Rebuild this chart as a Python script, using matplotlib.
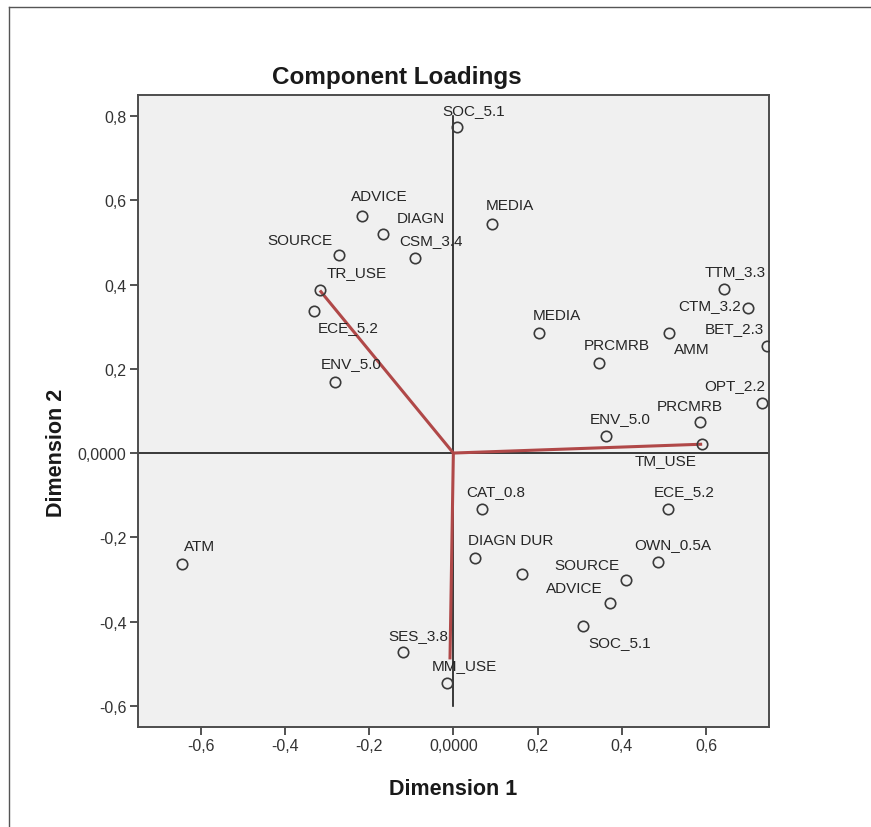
import matplotlib

matplotlib.use("Agg")
import matplotlib.pyplot as plt
from matplotlib.lines import Line2D

plt.rcParams["font.family"] = ["Liberation Sans", "DejaVu Sans"]

# Component loadings (Dimension 1, Dimension 2)
LABELS = [
    "SOC_5.1", "ADVICE", "DIAGN", "SOURCE", "CSM_3.4", "MEDIA", "TR_USE",
    "ECE_5.2", "ENV_5.0", "TTM_3.3", "CTM_3.2", "BET_2.3", "MEDIA", "PRCMRB",
    "AMM", "OPT_2.2", "PRCMRB", "ENV_5.0", "TM_USE", "CAT_0.8", "ECE_5.2",
    "ATM", "DIAGN DUR", "", "SOURCE", "OWN_0.5A", "ADVICE", "SOC_5.1",
    "SES_3.8", "MM_USE",
]
DIM1 = [
    0.008, -0.217, -0.166, -0.271, -0.091, 0.092, -0.317,
    -0.332, -0.282, 0.642, 0.701, 0.745, 0.203, 0.346,
    0.513, 0.734, 0.586, 0.363, 0.591, 0.067, 0.509,
    -0.645, 0.051, 0.164, 0.409, 0.487, 0.371, 0.309,
    -0.120, -0.016,
]
DIM2 = [
    0.773, 0.563, 0.521, 0.470, 0.462, 0.543, 0.386,
    0.337, 0.168, 0.390, 0.345, 0.253, 0.286, 0.214,
    0.286, 0.119, 0.073, 0.040, 0.021, -0.132, -0.132,
    -0.264, -0.249, -0.287, -0.301, -0.259, -0.355, -0.410,
    -0.472, -0.545,
]

# end points of the three red vectors
VEC_DIM1 = [-0.317, 0.591, -0.008]
VEC_DIM2 = [0.386, 0.021, -0.490]

TICKS = [-0.6, -0.4, -0.2, 0.0, 0.2, 0.4, 0.6, 0.8]
TICK_TEXT = ["-0,6", "-0,4", "-0,2", "0,0000", "0,2", "0,4", "0,6", "0,8"]

# label placement in pixels relative to the point: (dx, dy, alignment)
LABEL_POS = [
    (-14, 17, "left"), (-11, 20, "left"), (13, 16, "left"), (-7, 15, "right"),
    (-16, 18, "left"), (-6, 19, "left"), (7, 18, "left"), (4, -16, "left"),
    (-14, 19, "left"), (-19, 18, "left"), (-7, 3, "right"), (-62, 18, "left"),
    (-6, 18, "left"), (-15, 18, "left"), (5, -16, "left"), (-58, 18, "left"),
    (-43, 16, "left"), (-16, 18, "left"), (-68, -16, "left"), (-15, 18, "left"),
    (-14, 18, "left"), (2, 18, "left"), (-7, 18, "left"), (0, 0, "left"),
    (-6, 15, "right"), (-24, 18, "left"), (-7, 15, "right"), (5, -16, "left"),
    (-14, 17, "left"), (-15, 18, "left"),
]

TEXT_COLOR = "#262626"

fig = plt.figure(figsize=(8.71, 8.28), dpi=100)
ax = fig.add_axes([0.158, 0.121, 0.725, 0.763])
ax.set_facecolor("#F0F0F0")
ax.set_xlim(-0.75, 0.75)
ax.set_ylim(-0.65, 0.85)

# reference lines through the origin
ax.axhline(0, color="#1a1a1a", lw=1.2, zorder=1)
ax.plot([0, 0], [-0.6, 0.8], color="#1a1a1a", lw=1.2, zorder=1)

for vx, vy in zip(VEC_DIM1, VEC_DIM2):
    ax.plot([0, vx], [0, vy], color="#B04848", lw=2.2, solid_capstyle="butt", zorder=2)

ax.plot(DIM1, DIM2, linestyle="none", marker="o", ms=7.5, mfc="none",
        mec="#3a3a3a", mew=1.2, zorder=3, clip_on=True)

for x, y, label, (dx, dy, ha) in zip(DIM1, DIM2, LABELS, LABEL_POS):
    if not label:
        continue
    ax.annotate(label, (x, y), xytext=(dx, dy), textcoords="offset pixels",
                ha=ha, va="center", fontsize=11, color=TEXT_COLOR, zorder=4,
                annotation_clip=False)

ax.set_xticks(TICKS[:-1])
ax.set_xticklabels(TICK_TEXT[:-1])
ax.set_yticks(TICKS)
ax.set_yticklabels(TICK_TEXT)
ax.tick_params(direction="out", length=6, width=1.3, color="#444444",
               labelsize=11.5, labelcolor="#333333", pad=2)
for spine in ax.spines.values():
    spine.set_color("#4d4d4d")
    spine.set_linewidth(1.4)

fig.text(0.456, 0.907, "Component Loadings", ha="center", va="center",
         fontsize=17.5, fontweight="bold", color="#1a1a1a")
fig.text(0.520, 0.046, "Dimension 1", ha="center", va="center",
         fontsize=15.5, fontweight="bold", color="#1a1a1a")
fig.text(0.065, 0.453, "Dimension 2", ha="center", va="center", rotation=90,
         fontsize=15.5, fontweight="bold", color="#1a1a1a")

# thin frame along the top and left edge of the picture
fig.add_artist(Line2D([0.0105, 0.0105], [0.0, 0.990], color="#555555", lw=1.0))
fig.add_artist(Line2D([0.0105, 1.0], [0.990, 0.990], color="#555555", lw=1.0))

fig.savefig("out.png", dpi=100)
